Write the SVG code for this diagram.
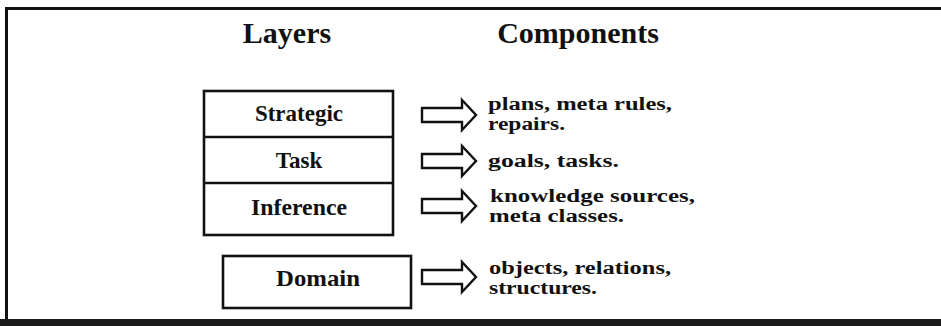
<svg xmlns="http://www.w3.org/2000/svg" width="941" height="326" viewBox="0 0 941 326">
<style>
.frame{fill:none;stroke:#111;stroke-width:3}
.box{fill:#fff;stroke:#111;stroke-width:2.6}
.div{stroke:#111;stroke-width:2.6}
.head{font-family:"Liberation Serif","Times New Roman",serif;font-weight:bold;font-size:30px;fill:#111;text-anchor:middle}
.lab{font-family:"Liberation Serif","Times New Roman",serif;font-weight:bold;font-size:23px;fill:#111;text-anchor:middle}
.comp{font-family:"Liberation Serif","Times New Roman",serif;font-weight:bold;font-size:18px;fill:#111}
.arr{fill:#fff;stroke:#111;stroke-width:2.4;stroke-linejoin:miter}
</style>
<defs>
<path id="arrow" class="arr" d="M0,-7 H40 V-15 L54,0 L40,15 V7 H0 Z"/>
</defs>
<rect x="0" y="0" width="941" height="326" fill="#fff"/>
<g id="frame">
<path class="frame" d="M943,8.5 H6.5 V321 H943"/>
<rect x="0" y="319" width="941" height="7" fill="#1a1a1a"/>
</g>
<g id="headings">
<text class="head" x="287" y="43">Layers</text>
<text class="head" x="578" y="43">Components</text>
</g>
<g id="layer-stack">
<rect class="box" x="204" y="91" width="189" height="144"/>
<line class="div" x1="204" y1="137" x2="393" y2="137"/>
<line class="div" x1="204" y1="183" x2="393" y2="183"/>
</g>
<g id="strategic"><text class="lab" x="299" y="121">Strategic</text></g>
<g id="task"><text class="lab" x="299" y="168">Task</text></g>
<g id="inference"><text class="lab" x="299" y="215" textLength="96" lengthAdjust="spacingAndGlyphs">Inference</text></g>
<g id="domain">
<rect class="box" x="223" y="256" width="188" height="52"/>
<text class="lab" x="318" y="286" textLength="84" lengthAdjust="spacingAndGlyphs">Domain</text>
</g>
<g id="connectors">
<use href="#arrow" x="422" y="115"/>
<use href="#arrow" x="422" y="161"/>
<use href="#arrow" x="422" y="206"/>
<use href="#arrow" x="422" y="277"/>
</g>
<g id="components">
<text class="comp" x="488" y="110" textLength="184" lengthAdjust="spacingAndGlyphs">plans, meta rules,</text>
<text class="comp" x="488" y="130" textLength="77" lengthAdjust="spacingAndGlyphs">repairs.</text>
<text class="comp" x="488" y="167" textLength="131" lengthAdjust="spacingAndGlyphs">goals, tasks.</text>
<text class="comp" x="490" y="202" textLength="205" lengthAdjust="spacingAndGlyphs">knowledge sources,</text>
<text class="comp" x="489" y="222" textLength="135" lengthAdjust="spacingAndGlyphs">meta classes.</text>
<text class="comp" x="489" y="274" textLength="182" lengthAdjust="spacingAndGlyphs">objects, relations,</text>
<text class="comp" x="489" y="294" textLength="108" lengthAdjust="spacingAndGlyphs">structures.</text>
</g>
</svg>
